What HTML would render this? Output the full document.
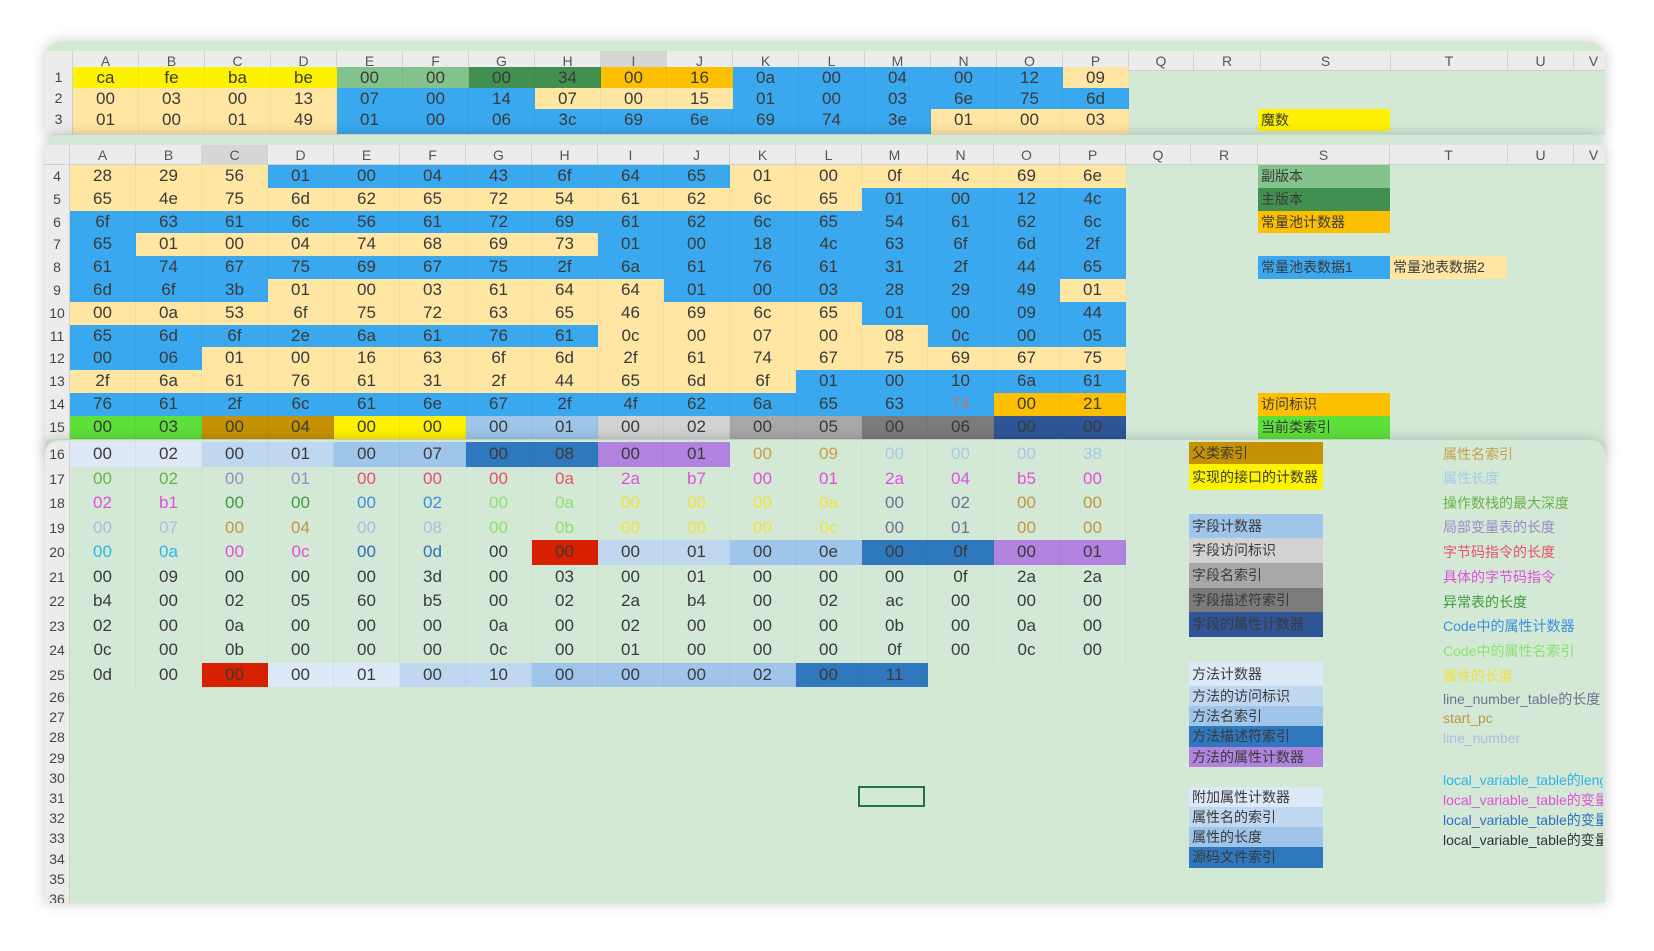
<!DOCTYPE html>
<html><head><meta charset="utf-8">
<style>
*{margin:0;padding:0;box-sizing:border-box}
body{width:1654px;height:951px;background:#fff;position:relative;overflow:hidden;font-family:"Liberation Sans","Noto Sans CJK SC",sans-serif;color:#3a3a3a}
.p{position:absolute;left:45px;width:1560px;background:#d3e9d6;border-radius:16px 16px 0 0;box-shadow:0 0 14px rgba(0,0,0,.22);overflow:hidden}
.hd{position:absolute;left:0;width:100%;height:20px;background:#ececec;border-bottom:1px solid #cfcfcf}
.hd span{position:absolute;top:0;height:20px;line-height:20px;text-align:center;font-size:14px;color:#555;border-right:1px solid #d4d4d4}
.rn{position:absolute;left:0;width:25px;background:#ececec;border-right:1px solid #cfcfcf;text-align:center;font-size:14px;color:#444}
.r{position:absolute;left:25px;display:flex}
.r span{width:66px;text-align:center;font-size:17px;border-right:1px solid rgba(0,0,0,.04)}
.y{background:#fff200}.b{background:#ffe6a3}.u{background:#3aa8ef}.g1{background:#84c28b}.g2{background:#42904f}.o{background:#fdc000}
.lg{background:#5ee03a}.br{background:#c49204}.l1{background:#dde9f7}.l2{background:#bfd8f0}.l3{background:#9fc5ea}.l4{background:#2f78bd}
.pu{background:#b283de}.s1{background:#d2d2d2}.s2{background:#a8a8a8}.s3{background:#7b7b7b}.nv{background:#2f5597}.rd{background:#d62000}
.cg{color:#c9a04a}.clb{color:#a9c9ea}.cgr{color:#6bb04a}.cpu{color:#9b8ac6}.cr{color:#e8506a}.cm{color:#e050d8}.cdg{color:#3f9b3a}
.cb{color:#3b8ee0}.clg{color:#8ee070}.cy{color:#f0e040}.cgp{color:#707090}.cgo{color:#c09545}.clp{color:#b6b8e0}.cc{color:#30b4e8}.cbl{color:#2e6fc0}
.lab{position:absolute;font-size:14px;padding-left:3px;white-space:nowrap;overflow:hidden}
.rt{position:absolute;left:1398px;font-size:14px;white-space:nowrap;width:160px;overflow:hidden}
</style></head><body>

<!-- Panel 1 -->
<div class="p" style="top:42px;height:92px">
<div class="hd" style="top:9px">
<span style="left:0;width:28px"></span>
<span style="left:28px;width:66px">A</span><span style="left:94px;width:66px">B</span><span style="left:160px;width:66px">C</span><span style="left:226px;width:66px">D</span><span style="left:292px;width:66px">E</span><span style="left:358px;width:66px">F</span><span style="left:424px;width:66px">G</span><span style="left:490px;width:66px">H</span><span style="left:556px;width:66px;background:#d6d6d6">I</span><span style="left:622px;width:66px">J</span><span style="left:688px;width:66px">K</span><span style="left:754px;width:66px">L</span><span style="left:820px;width:66px">M</span><span style="left:886px;width:66px">N</span><span style="left:952px;width:66px">O</span><span style="left:1018px;width:66px">P</span><span style="left:1084px;width:65px">Q</span><span style="left:1149px;width:67px">R</span><span style="left:1216px;width:130px">S</span><span style="left:1346px;width:117px">T</span><span style="left:1463px;width:66px">U</span><span style="left:1529px;width:40px">V</span>
</div>
<div class="rn" style="top:25px;height:21px;line-height:21px;width:28px">1</div>
<div class="rn" style="top:46px;height:21px;line-height:21px;width:28px">2</div>
<div class="rn" style="top:67px;height:25px;line-height:21px;width:28px">3</div>
<div class="r" style="top:25px;left:28px;height:21px;line-height:21px"><span class="y">ca</span><span class="y">fe</span><span class="y">ba</span><span class="y">be</span><span class="g1">00</span><span class="g1">00</span><span class="g2">00</span><span class="g2">34</span><span class="o">00</span><span class="o">16</span><span class="u">0a</span><span class="u">00</span><span class="u">04</span><span class="u">00</span><span class="u">12</span><span class="b">09</span></div>
<div class="r" style="top:46px;left:28px;height:21px;line-height:21px"><span class="b">00</span><span class="b">03</span><span class="b">00</span><span class="b">13</span><span class="u">07</span><span class="u">00</span><span class="u">14</span><span class="b">07</span><span class="b">00</span><span class="b">15</span><span class="u">01</span><span class="u">00</span><span class="u">03</span><span class="u">6e</span><span class="u">75</span><span class="u">6d</span></div>
<div class="r" style="top:67px;left:28px;height:25px;line-height:21px"><span class="b">01</span><span class="b">00</span><span class="b">01</span><span class="b">49</span><span class="u">01</span><span class="u">00</span><span class="u">06</span><span class="u">3c</span><span class="u">69</span><span class="u">6e</span><span class="u">69</span><span class="u">74</span><span class="u">3e</span><span class="b">01</span><span class="b">00</span><span class="b">03</span></div>
<div class="lab y" style="left:1213px;top:67px;width:132px;height:22px;line-height:22px">魔数</div>
</div>

<!-- Panel 2 -->
<div class="p" style="top:135px;height:320px">
<div class="hd" style="top:10px">
<span style="left:0;width:25px"></span>
<span style="left:25px;width:66px">A</span><span style="left:91px;width:66px">B</span><span style="left:157px;width:66px;background:#d6d6d6">C</span><span style="left:223px;width:66px">D</span><span style="left:289px;width:66px">E</span><span style="left:355px;width:66px">F</span><span style="left:421px;width:66px">G</span><span style="left:487px;width:66px">H</span><span style="left:553px;width:66px">I</span><span style="left:619px;width:66px">J</span><span style="left:685px;width:66px">K</span><span style="left:751px;width:66px">L</span><span style="left:817px;width:66px">M</span><span style="left:883px;width:66px">N</span><span style="left:949px;width:66px">O</span><span style="left:1015px;width:66px">P</span><span style="left:1081px;width:65px">Q</span><span style="left:1146px;width:67px">R</span><span style="left:1213px;width:132px">S</span><span style="left:1345px;width:118px">T</span><span style="left:1463px;width:66px">U</span><span style="left:1529px;width:40px">V</span>
</div>
<div class="rn" style="top:30px;height:274px;line-height:22.8px">4<br>5<br>6<br>7<br>8<br>9<br>10<br>11<br>12<br>13<br>14<br>15</div>
<div style="position:absolute;top:30px;left:0;width:100%;line-height:22.8px">
<div class="r" style="top:0"><span class="b">28</span><span class="b">29</span><span class="b">56</span><span class="u">01</span><span class="u">00</span><span class="u">04</span><span class="u">43</span><span class="u">6f</span><span class="u">64</span><span class="u">65</span><span class="b">01</span><span class="b">00</span><span class="b">0f</span><span class="b">4c</span><span class="b">69</span><span class="b">6e</span></div>
<div class="r" style="top:22.8px"><span class="b">65</span><span class="b">4e</span><span class="b">75</span><span class="b">6d</span><span class="b">62</span><span class="b">65</span><span class="b">72</span><span class="b">54</span><span class="b">61</span><span class="b">62</span><span class="b">6c</span><span class="b">65</span><span class="u">01</span><span class="u">00</span><span class="u">12</span><span class="u">4c</span></div>
<div class="r" style="top:45.6px"><span class="u">6f</span><span class="u">63</span><span class="u">61</span><span class="u">6c</span><span class="u">56</span><span class="u">61</span><span class="u">72</span><span class="u">69</span><span class="u">61</span><span class="u">62</span><span class="u">6c</span><span class="u">65</span><span class="u">54</span><span class="u">61</span><span class="u">62</span><span class="u">6c</span></div>
<div class="r" style="top:68.4px"><span class="u">65</span><span class="b">01</span><span class="b">00</span><span class="b">04</span><span class="b">74</span><span class="b">68</span><span class="b">69</span><span class="b">73</span><span class="u">01</span><span class="u">00</span><span class="u">18</span><span class="u">4c</span><span class="u">63</span><span class="u">6f</span><span class="u">6d</span><span class="u">2f</span></div>
<div class="r" style="top:91.2px"><span class="u">61</span><span class="u">74</span><span class="u">67</span><span class="u">75</span><span class="u">69</span><span class="u">67</span><span class="u">75</span><span class="u">2f</span><span class="u">6a</span><span class="u">61</span><span class="u">76</span><span class="u">61</span><span class="u">31</span><span class="u">2f</span><span class="u">44</span><span class="u">65</span></div>
<div class="r" style="top:114px"><span class="u">6d</span><span class="u">6f</span><span class="u">3b</span><span class="b">01</span><span class="b">00</span><span class="b">03</span><span class="b">61</span><span class="b">64</span><span class="b">64</span><span class="u">01</span><span class="u">00</span><span class="u">03</span><span class="u">28</span><span class="u">29</span><span class="u">49</span><span class="b">01</span></div>
<div class="r" style="top:136.8px"><span class="b">00</span><span class="b">0a</span><span class="b">53</span><span class="b">6f</span><span class="b">75</span><span class="b">72</span><span class="b">63</span><span class="b">65</span><span class="b">46</span><span class="b">69</span><span class="b">6c</span><span class="b">65</span><span class="u">01</span><span class="u">00</span><span class="u">09</span><span class="u">44</span></div>
<div class="r" style="top:159.6px"><span class="u">65</span><span class="u">6d</span><span class="u">6f</span><span class="u">2e</span><span class="u">6a</span><span class="u">61</span><span class="u">76</span><span class="u">61</span><span class="b">0c</span><span class="b">00</span><span class="b">07</span><span class="b">00</span><span class="b">08</span><span class="u">0c</span><span class="u">00</span><span class="u">05</span></div>
<div class="r" style="top:182.4px"><span class="u">00</span><span class="u">06</span><span class="b">01</span><span class="b">00</span><span class="b">16</span><span class="b">63</span><span class="b">6f</span><span class="b">6d</span><span class="b">2f</span><span class="b">61</span><span class="b">74</span><span class="b">67</span><span class="b">75</span><span class="b">69</span><span class="b">67</span><span class="b">75</span></div>
<div class="r" style="top:205.2px"><span class="b">2f</span><span class="b">6a</span><span class="b">61</span><span class="b">76</span><span class="b">61</span><span class="b">31</span><span class="b">2f</span><span class="b">44</span><span class="b">65</span><span class="b">6d</span><span class="b">6f</span><span class="u">01</span><span class="u">00</span><span class="u">10</span><span class="u">6a</span><span class="u">61</span></div>
<div class="r" style="top:228px"><span class="u">76</span><span class="u">61</span><span class="u">2f</span><span class="u">6c</span><span class="u">61</span><span class="u">6e</span><span class="u">67</span><span class="u">2f</span><span class="u">4f</span><span class="u">62</span><span class="u">6a</span><span class="u">65</span><span class="u">63</span><span class="u" style="color:#b07a70">74</span><span class="o">00</span><span class="o">21</span></div>
<div class="r" style="top:250.8px"><span class="lg">00</span><span class="lg">03</span><span class="br">00</span><span class="br">04</span><span class="y">00</span><span class="y">00</span><span class="l3">00</span><span class="l3">01</span><span class="s1">00</span><span class="s1">02</span><span class="s2">00</span><span class="s2">05</span><span class="s3">00</span><span class="s3">06</span><span class="nv">00</span><span class="nv">00</span></div>
<div class="lab g1" style="left:1213px;top:0;width:132px;height:22.8px">副版本</div>
<div class="lab g2" style="left:1213px;top:22.8px;width:132px;height:22.8px">主版本</div>
<div class="lab o" style="left:1213px;top:45.6px;width:132px;height:22.8px">常量池计数器</div>
<div class="lab u" style="left:1213px;top:91.2px;width:132px;height:22.8px">常量池表数据1</div>
<div class="lab b" style="left:1345px;top:91.2px;width:117px;height:22.8px">常量池表数据2</div>
<div class="lab o" style="left:1213px;top:228px;width:132px;height:22.8px">访问标识</div>
<div class="lab lg" style="left:1213px;top:250.8px;width:132px;height:22.8px">当前类索引</div>
</div>
</div>

<!-- Panel 3 -->
<div class="p" style="top:440px;height:463px;border-radius:14px 14px 0 0">
<div class="rn" style="top:2px;height:245px;line-height:24.5px">16<br>17<br>18<br>19<br>20<br>21<br>22<br>23<br>24<br>25</div>
<div class="rn" style="top:247px;height:216px;line-height:20.2px">26<br>27<br>28<br>29<br>30<br>31<br>32<br>33<br>34<br>35<br>36</div>
<div style="position:absolute;top:2px;left:0;width:100%;line-height:24.5px">
<div class="r" style="top:0"><span class="l1">00</span><span class="l1">02</span><span class="l2">00</span><span class="l2">01</span><span class="l3">00</span><span class="l3">07</span><span class="l4">00</span><span class="l4">08</span><span class="pu">00</span><span class="pu">01</span><span class="cg">00</span><span class="cg">09</span><span class="clb">00</span><span class="clb">00</span><span class="clb">00</span><span class="clb">38</span></div>
<div class="r" style="top:24.5px"><span class="cgr">00</span><span class="cgr">02</span><span class="cpu">00</span><span class="cpu">01</span><span class="cr">00</span><span class="cr">00</span><span class="cr">00</span><span class="cr">0a</span><span class="cm">2a</span><span class="cm">b7</span><span class="cm">00</span><span class="cm">01</span><span class="cm">2a</span><span class="cm">04</span><span class="cm">b5</span><span class="cm">00</span></div>
<div class="r" style="top:49px"><span class="cm">02</span><span class="cm">b1</span><span class="cdg">00</span><span class="cdg">00</span><span class="cb">00</span><span class="cb">02</span><span class="clg">00</span><span class="clg">0a</span><span class="cy">00</span><span class="cy">00</span><span class="cy">00</span><span class="cy">0a</span><span class="cgp">00</span><span class="cgp">02</span><span class="cgo">00</span><span class="cgo">00</span></div>
<div class="r" style="top:73.5px"><span class="clp">00</span><span class="clp">07</span><span class="cgo">00</span><span class="cgo">04</span><span class="clp">00</span><span class="clp">08</span><span class="clg">00</span><span class="clg">0b</span><span class="cy">00</span><span class="cy">00</span><span class="cy">00</span><span class="cy">0c</span><span class="cgp">00</span><span class="cgp">01</span><span class="cgo">00</span><span class="cgo">00</span></div>
<div class="r" style="top:98px"><span class="cc">00</span><span class="cc">0a</span><span class="cm">00</span><span class="cm">0c</span><span class="cbl">00</span><span class="cbl">0d</span><span>00</span><span class="rd">00</span><span class="l2">00</span><span class="l2">01</span><span class="l3">00</span><span class="l3">0e</span><span class="l4">00</span><span class="l4">0f</span><span class="pu">00</span><span class="pu">01</span></div>
<div class="r" style="top:122.5px"><span>00</span><span>09</span><span>00</span><span>00</span><span>00</span><span>3d</span><span>00</span><span>03</span><span>00</span><span>01</span><span>00</span><span>00</span><span>00</span><span>0f</span><span>2a</span><span>2a</span></div>
<div class="r" style="top:147px"><span>b4</span><span>00</span><span>02</span><span>05</span><span>60</span><span>b5</span><span>00</span><span>02</span><span>2a</span><span>b4</span><span>00</span><span>02</span><span>ac</span><span>00</span><span>00</span><span>00</span></div>
<div class="r" style="top:171.5px"><span>02</span><span>00</span><span>0a</span><span>00</span><span>00</span><span>00</span><span>0a</span><span>00</span><span>02</span><span>00</span><span>00</span><span>00</span><span>0b</span><span>00</span><span>0a</span><span>00</span></div>
<div class="r" style="top:196px"><span>0c</span><span>00</span><span>0b</span><span>00</span><span>00</span><span>00</span><span>0c</span><span>00</span><span>01</span><span>00</span><span>00</span><span>00</span><span>0f</span><span>00</span><span>0c</span><span>00</span></div>
<div class="r" style="top:220.5px"><span>0d</span><span>00</span><span class="rd">00</span><span class="l1">00</span><span class="l1">01</span><span class="l2">00</span><span class="l2">10</span><span class="l3">00</span><span class="l3">00</span><span class="l3">00</span><span class="l3">02</span><span class="l4">00</span><span class="l4">11</span></div>
</div>
<!-- left labels -->
<div class="lab br" style="left:1144px;top:2px;width:134px;height:22px;line-height:22px">父类索引</div>
<div class="lab y" style="left:1144px;top:24px;width:134px;height:26px;line-height:26px">实现的接口的计数器</div>
<div class="lab l3" style="left:1144px;top:74px;width:134px;height:24px;line-height:24px">字段计数器</div>
<div class="lab s1" style="left:1144px;top:98px;width:134px;height:25px;line-height:25px">字段访问标识</div>
<div class="lab s2" style="left:1144px;top:123px;width:134px;height:25px;line-height:25px">字段名索引</div>
<div class="lab s3" style="left:1144px;top:148px;width:134px;height:24px;line-height:24px">字段描述符索引</div>
<div class="lab nv" style="left:1144px;top:172px;width:134px;height:25px;line-height:25px">字段的属性计数器</div>
<div class="lab l1" style="left:1144px;top:222px;width:134px;height:24px;line-height:24px">方法计数器</div>
<div class="lab l2" style="left:1144px;top:246px;width:134px;height:20px;line-height:20px">方法的访问标识</div>
<div class="lab l3" style="left:1144px;top:266px;width:134px;height:20px;line-height:20px">方法名索引</div>
<div class="lab l4" style="left:1144px;top:286px;width:134px;height:21px;line-height:21px">方法描述符索引</div>
<div class="lab pu" style="left:1144px;top:307px;width:134px;height:20px;line-height:20px">方法的属性计数器</div>
<div class="lab l1" style="left:1144px;top:347px;width:134px;height:20px;line-height:20px">附加属性计数器</div>
<div class="lab l2" style="left:1144px;top:367px;width:134px;height:20px;line-height:20px">属性名的索引</div>
<div class="lab l3" style="left:1144px;top:387px;width:134px;height:20px;line-height:20px">属性的长度</div>
<div class="lab l4" style="left:1144px;top:407px;width:134px;height:21px;line-height:21px">源码文件索引</div>
<!-- right labels -->
<div class="rt cg" style="top:4px">属性名索引</div>
<div class="rt clb" style="top:28px">属性长度</div>
<div class="rt cgr" style="top:53px">操作数栈的最大深度</div>
<div class="rt cpu" style="top:77px">局部变量表的长度</div>
<div class="rt cr" style="top:102px">字节码指令的长度</div>
<div class="rt cm" style="top:127px">具体的字节码指令</div>
<div class="rt cdg" style="top:152px">异常表的长度</div>
<div class="rt cb" style="top:176px">Code中的属性计数器</div>
<div class="rt clg" style="top:201px">Code中的属性名索引</div>
<div class="rt cy" style="top:226px">属性的长度</div>
<div class="rt cgp" style="top:249px">line_number_table的长度</div>
<div class="rt cgo" style="top:270px">start_pc</div>
<div class="rt clp" style="top:290px">line_number</div>
<div class="rt cc" style="top:330px">local_variable_table的length</div>
<div class="rt cm" style="top:350px">local_variable_table的变量</div>
<div class="rt cbl" style="top:370px">local_variable_table的变量</div>
<div class="rt" style="top:390px;color:#333">local_variable_table的变量</div>
<!-- selected cell -->
<div style="position:absolute;left:813px;top:346px;width:67px;height:21px;border:2px solid #217346"></div>
</div>
</body></html>
